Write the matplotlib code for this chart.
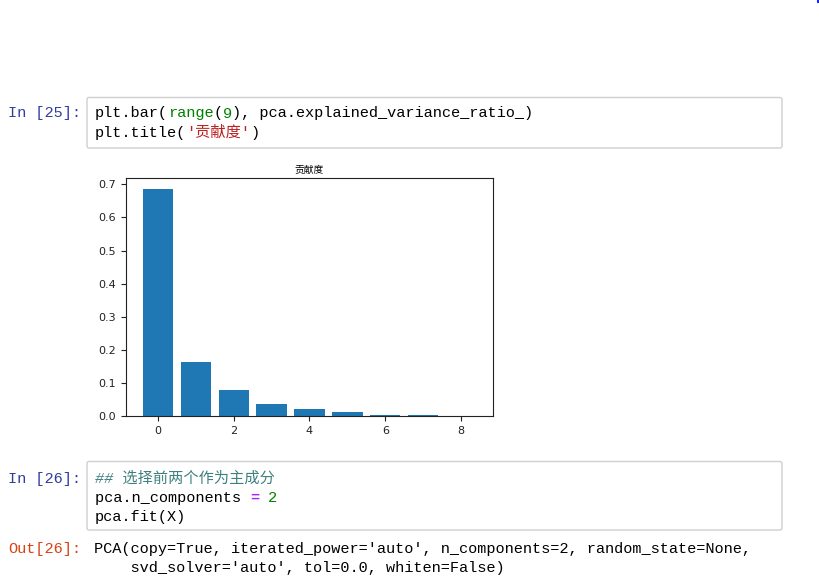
import matplotlib
matplotlib.use('Agg')
import matplotlib.pyplot as plt
from matplotlib.patches import FancyBboxPatch, Rectangle
from matplotlib.transforms import IdentityTransform

# data
components = list(range(9))
ratios = [0.685, 0.164, 0.079, 0.035, 0.022, 0.013, 0.004, 0.004, 0.001]
chart_title = '贡献度'
x_ticks = [0, 2, 4, 6, 8]

# notebook text: (text, colour, weight, style)
BLACK = '#000000'
GREEN = '#008000'
RED = '#BA2121'
TEAL = '#408080'
PURPLE = '#AA22FF'

cell25_lines = [
    [('plt.bar(', BLACK, 'normal', 'normal'), ('range', GREEN, 'normal', 'normal'),
     ('(', BLACK, 'normal', 'normal'), ('9', GREEN, 'normal', 'normal'),
     ('), pca.explained_variance_ratio_)', BLACK, 'normal', 'normal')],
    [('plt.title(', BLACK, 'normal', 'normal'), ("'贡献度'", RED, 'normal', 'normal'),
     (')', BLACK, 'normal', 'normal')],
]
cell26_lines = [
    [('## 选择前两个作为主成分', TEAL, 'normal', 'italic')],
    [('pca.n_components ', BLACK, 'normal', 'normal'), ('=', PURPLE, 'bold', 'normal'),
     (' ', BLACK, 'normal', 'normal'), ('2', GREEN, 'normal', 'normal')],
    [('pca.fit(X)', BLACK, 'normal', 'normal')],
]
out26_lines = [
    "PCA(copy=True, iterated_power='auto', n_components=2, random_state=None,",
    "    svd_solver='auto', tol=0.0, whiten=False)",
]

W, H, DPI = 820, 583, 100
MONO = ['Liberation Mono', 'Noto Sans CJK SC']
FS = 10.95
EM = FS * DPI / 72.0


def text_width(s):
    return sum(EM * 0.6 if ord(c) < 128 else EM for c in s)


def draw_line(fig, x, y, segs):
    # x, y in pixels from the top left, y is the baseline
    for text, color, weight, style in segs:
        fig.text(x / W, 1 - y / H, text, color=color, fontsize=FS, family=MONO,
                 fontweight=weight, fontstyle=style, va='baseline', ha='left')
        x += text_width(text)


def cell_box(fig, x0, y0, x1, y1):
    box = FancyBboxPatch((x0, H - y1), x1 - x0, y1 - y0,
                         boxstyle='round,pad=0,rounding_size=2',
                         facecolor='#ffffff', edgecolor='#cfcfcf', linewidth=1,
                         transform=IdentityTransform())
    fig.patches.append(box)


fig = plt.figure(figsize=(W / DPI, H / DPI), dpi=DPI)
fig.patch.set_facecolor('white')

# cell 25
cell_box(fig, 87, 97.5, 782, 148)
draw_line(fig, 8, 117.5, [('In [25]:', '#303F9F', 'normal', 'normal')])
for i, segs in enumerate(cell25_lines):
    draw_line(fig, 95, 117.5 + i * 19, segs)

# the chart
ax = fig.add_axes([126 / W, 1 - 416 / H, 367 / W, 238 / H])
ax.bar(components, ratios, color='#1f77b4')
ax.set_xticks(x_ticks)
ax.set_title(chart_title, fontsize=7, family=['Noto Sans CJK SC', 'DejaVu Sans'], pad=4)
ax.tick_params(labelsize=8, colors='#222222')
for sp in ax.spines.values():
    sp.set_color('#222222')

# cell 26
cell_box(fig, 87, 461.5, 782, 530)
draw_line(fig, 8, 483, [('In [26]:', '#303F9F', 'normal', 'normal')])
for i, segs in enumerate(cell26_lines):
    draw_line(fig, 95, 483 + i * 19, segs)

draw_line(fig, 8, 553, [('Out[26]:', '#D84315', 'normal', 'normal')])
for i, line in enumerate(out26_lines):
    draw_line(fig, 94, 553 + i * 19, [(line, BLACK, 'normal', 'normal')])

# small blue speck at the top right corner of the screenshot
fig.patches.append(Rectangle((817, H - 3), 2, 3, facecolor='#2020ff', edgecolor='none',
                             transform=IdentityTransform()))

fig.savefig('out.png', dpi=DPI)
